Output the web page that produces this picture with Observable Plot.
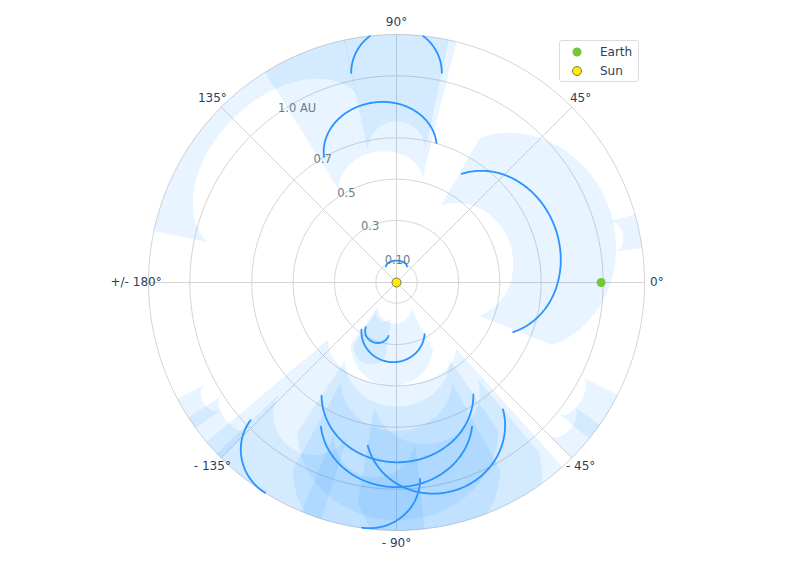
<!DOCTYPE html>
<html>
<head>
<meta charset="utf-8">
<script src="https://cdn.jsdelivr.net/npm/d3@7"></script>
<script src="https://cdn.jsdelivr.net/npm/@observablehq/plot@0.6"></script>
<style>
  body { margin: 0; background: #fff; font-family: "DejaVu Sans", sans-serif; }
  #wrap { position: relative; width: 793px; height: 566px; }
  .legend { position: absolute; left: 559px; top: 40px; width: 78px; height: 40px;
    border: 1px solid #dcdcdc; border-radius: 3px; background: #fff; font-size: 12px; color: #2a3f5f; }
  .legend .item { position: absolute; left: 0; height: 18px; display: flex; align-items: center; }
  .legend .item span { position: absolute; left: 40px; white-space: nowrap; }
</style>
</head>
<body>
<div id="wrap"></div>
<script>
// ---------- axis data ----------
const radialMax = 1.2;
const angleTicks = [0, 45, 90, 135, 180, -135, -90, -45];
const angleTickLabels = ["0°", "45°", "90°", "135°", "+/- 180°", "- 135°", "- 90°", "- 45°"];
const radialTicks = [0.1, 0.3, 0.5, 0.7, 1.0];
const radialTickLabels = ["0.10", "0.3", "0.5", "0.7", "1.0 AU"];
const gridRadii = [0.1, 0.3, 0.5, 0.7, 1.0, 1.2];
const radialLabelAngle = 125;
const angleLabelRadius = 1.26;

// ---------- CME fronts (ellipse segments) ----------
const frontDirection = [90, 97, 18, 90, -111.5, -94, -89.5, -90, -75, -122, -98];
const frontHalfWidth = [12.2, 23, 41, 33, 13, 32.6, 34, 29, 25, 14.4, 14.5];
const frontShape     = [0.178, 0.264, 0.43, 0.27, 0.177, 0.38, 0.374, 0.33, 0.305, 0.2, 0.2];
const frontDistance  = [1.234, 0.878, 0.812, 0.106, 0.31, 0.386, 0.87, 0.99, 1.045, 1.2, 1.198];
const frontStart     = [-90, -90, -90, -90, -90, -90, -90, -84, -90, -95, 0];
const frontEnd       = [90, 90, 90, 90, 90, 90, 90, 84, 90, 0, 98];

// ---------- shaded CME regions ----------
const shadeDirection = [90, 99, 19, -111.5, -94, -89.5, -90, -75, -122, -98, 135, -33, -40, 12, -148, -141, -94];
const shadeHalfWidth = [12.2, 23, 41, 13, 32.6, 34, 29, 25, 14.4, 14.5, 33, 6, 5, 4, 4, 6, 46];
const shadeShape     = [0.178, 0.25, 0.44, 0.18, 0.38, 0.374, 0.33, 0.305, 0.2, 0.2, 0.3, 0.05, 0.05, 0.05, 0.05, 0.05, 0.4];
const shadeInner     = [0.78, 0.64, 0.58, 0.2, 0.2, 0.6, 0.72, 0.8, 0.95, 0.95, 1.12, 1.06, 1.1, 1.12, 1.1, 1.06, 0.5];
const shadeOuter     = [1.6, 1.6, 1.09, 0.42, 0.5, 1.15, 1.35, 1.4, 1.6, 1.6, 1.8, 1.5, 1.5, 1.5, 1.5, 1.5, 1.4];

// ---------- bodies ----------
const bodyNames = ["Earth", "Sun"];
const bodyDistance = [0.99, 0];
const bodyAngle = [0, 0];
const bodyColors = ["#72c83a", "#ffee00"];

// ---------- geometry helpers ----------
const rad = d => d * Math.PI / 180;
const polar = (r, a) => [r * Math.cos(rad(a)), r * Math.sin(rad(a))];
function ellipsePoint(dir, lam, k, R, t) {
  const c = (1 - k) * R, a = k * R, b = c * Math.tan(rad(lam));
  const u = [Math.cos(rad(dir)), Math.sin(rad(dir))];
  const v = [-u[1], u[0]];
  const s = c + a * Math.cos(rad(t)), w = b * Math.sin(rad(t));
  return [s * u[0] + w * v[0], s * u[1] + w * v[1]];
}
const clampR = ([x, y]) => {
  const r = Math.hypot(x, y);
  return r > radialMax ? [x * radialMax / r, y * radialMax / r] : [x, y];
};

// grid circles
const gridData = [];
gridRadii.forEach((r, i) => {
  for (let a = 0; a <= 360; a += 2) { const [x, y] = polar(r, a); gridData.push({id: i, x, y}); }
});
// spokes
const spokeData = [];
[0, 45, 90, 135].forEach((a, i) => {
  const [x1, y1] = polar(radialMax, a), [x2, y2] = polar(radialMax, a + 180);
  spokeData.push({id: i, x: x1, y: y1}, {id: i, x: x2, y: y2});
});

// shaded polygons
const shadeData = [];
shadeDirection.forEach((dir, i) => {
  const pts = [];
  for (let t = -90; t <= 90; t += 3) pts.push(ellipsePoint(dir, shadeHalfWidth[i], shadeShape[i], shadeOuter[i], t));
  for (let t = 90; t >= -90; t -= 3) pts.push(ellipsePoint(dir, shadeHalfWidth[i], shadeShape[i], shadeInner[i], t));
  pts.map(clampR).forEach(([x, y]) => shadeData.push({id: i, x, y}));
});

// front lines (points beyond the radial range are hidden)
const frontData = [];
frontDirection.forEach((dir, i) => {
  for (let t = frontStart[i]; t <= frontEnd[i] + 1e-9; t += 1) {
    const [x, y] = ellipsePoint(dir, frontHalfWidth[i], frontShape[i], frontDistance[i], t);
    const inside = Math.hypot(x, y) <= radialMax;
    frontData.push({id: i, x: inside ? x : NaN, y: inside ? y : NaN});
  }
});

const angleLabelData = angleTicks.map((a, i) => {
  const [x, y] = polar(angleLabelRadius, a); return {x, y, label: angleTickLabels[i]};
});
const radialLabelData = radialTicks.map((r, i) => {
  const [x, y] = polar(r, radialLabelAngle); return {x, y, label: radialTickLabels[i]};
});
const bodyData = bodyNames.map((n, i) => {
  const [x, y] = polar(bodyDistance[i], bodyAngle[i]); return {name: n, x, y, color: bodyColors[i]};
});

const chart = Plot.plot({
  width: 793, height: 566,
  marginLeft: 148, marginRight: 149, marginTop: 34, marginBottom: 36,
  style: {fontFamily: "DejaVu Sans, sans-serif", background: "white"},
  x: {domain: [-radialMax, radialMax], axis: null},
  y: {domain: [-radialMax, radialMax], axis: null},
  marks: [
    Plot.line(gridData, {x: "x", y: "y", z: "id", stroke: "#d4d4d4", strokeWidth: 1}),
    Plot.line(spokeData, {x: "x", y: "y", z: "id", stroke: "#d4d4d4", strokeWidth: 1}),
    Plot.line(shadeData, {x: "x", y: "y", z: "id", stroke: "none", fill: "#1e90ff", fillOpacity: 0.1}),
    Plot.line(frontData, {x: "x", y: "y", z: "id", stroke: "#2b93ff", strokeWidth: 1.8}),
    Plot.text(angleLabelData, {x: "x", y: "y", text: "label", fontSize: 12, fill: "#2a3f5f"}),
    Plot.text(radialLabelData, {x: "x", y: "y", text: "label", fontSize: 11.5, fill: "#6a7c8c", textAnchor: "start", dy: -5}),
    Plot.dot(bodyData, {x: "x", y: "y", r: 4.5, fill: "color", stroke: d => d.name === "Sun" ? "#555" : "none", strokeWidth: 0.8})
  ]
});
const wrap = document.getElementById("wrap");
wrap.appendChild(chart);

// legend
const legend = document.createElement("div");
legend.className = "legend";
bodyNames.forEach((n, i) => {
  const item = document.createElement("div");
  item.className = "item";
  item.style.top = (2 + i * 19) + "px";
  item.style.width = "78px";
  item.innerHTML = `<svg width="34" height="18" style="position:absolute;left:0;top:0"><circle cx="17" cy="9" r="4.5" fill="${bodyColors[i]}" stroke="${n === "Sun" ? "#555" : "none"}" stroke-width="0.8"/></svg><span>${n}</span>`;
  legend.appendChild(item);
});
wrap.appendChild(legend);
</script>
</body>
</html>
